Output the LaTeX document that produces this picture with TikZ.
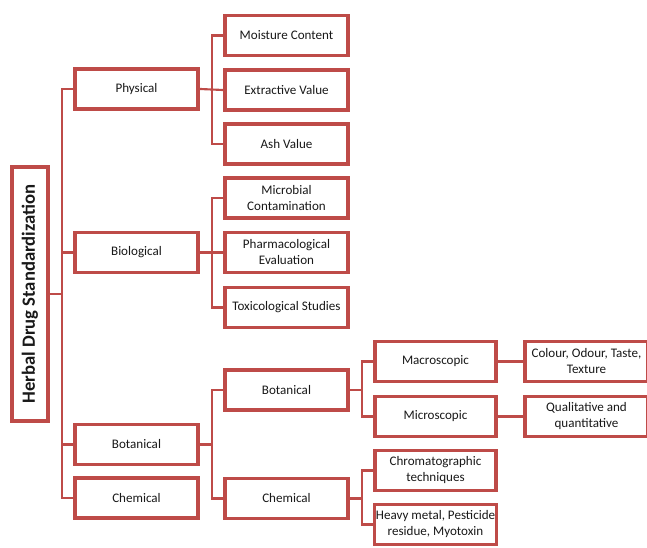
\documentclass[tikz,border=0pt]{standalone}
\usepackage{fontspec}
\setmainfont{Carlito}
\usetikzlibrary{shadows}
\definecolor{boxred}{HTML}{BE4B48}
\tikzset{
  box/.style={draw=boxred, line width=2.8pt, fill=white, rectangle,
    minimum width=92.6pt, minimum height=30pt, inner sep=1pt, align=center,
    text=black!90, font=\fontsize{9.8}{12}\selectfont,
    drop shadow={shadow xshift=1pt, shadow yshift=-1.2pt, fill=black!45, opacity=0.5}},
  smallbox/.style={box, minimum width=91pt},
  rootbox/.style={box, minimum width=27.2pt, minimum height=191pt},
  link/.style={draw=boxred, line width=1.6pt}
}
\begin{document}
\begin{tikzpicture}[x=0.75pt, y=-0.75pt]
\useasboundingbox (0,0) rectangle (647,548);
\clip (0,0) rectangle (647,548);
% root
\node[rootbox] (root) at (30,294) {};
\node[rotate=90, font=\fontsize{14}{16}\bfseries\selectfont, text=black!90] (roottext) at (root.center) {Herbal Drug Standardization};
% level 1
\node[box] (phys) at (136.5,89) {Physical};
\node[box] (bio) at (136.5,252.5) {Biological};
\node[box] (bot) at (136.5,444.5) {Botanical};
\node[box] (chem) at (136.5,498) {Chemical};
% level 2
\node[box] (moist) at (286.5,35.5) {Moisture Content};
\node[box] (extr) at (286.5,90) {Extractive Value};
\node[box] (ash) at (286.5,144) {Ash Value};
\node[box] (micro) at (286.5,198) {Microbial\\Contamination};
\node[box] (pharm) at (286.5,252.5) {Pharmacological\\Evaluation};
\node[box] (toxi) at (286.5,307.5) {Toxicological Studies};
\node[box] (bot2) at (286.5,390) {Botanical};
\node[box] (chem2) at (286.5,498.5) {Chemical};
% level 3
\node[smallbox] (macro) at (435.5,361.5) {Macroscopic};
\node[smallbox] (micros) at (435.5,416.5) {Microscopic};
\node[smallbox] (chrom) at (435.5,470.5) {Chromatographic\\techniques};
\node[smallbox] (heavy) at (435.5,524.5) {Heavy metal, Pesticide\\residue, Myotoxin};
% level 4
\node[box] (colour) at (586.5,361.5) {Colour, Odour, Taste,\\Texture};
\node[box] (qual) at (586.5,416.5) {Qualitative and\\quantitative};
% connectors
\coordinate (t1) at (62,0);
\coordinate (t2) at (212,0);
\coordinate (t3) at (362,0);
\draw[link] (root.east) -- (root.east -| t1);
\draw[link] (phys.west) -- (phys.west -| t1) -- (chem.west -| t1) -- (chem.west);
\draw[link] (bio.west) -- (bio.west -| t1);
\draw[link] (bot.west) -- (bot.west -| t1);
\draw[link] (phys.east) -- (extr.west);
\draw[link] (moist.west) -- (moist.west -| t2) -- (ash.west -| t2) -- (ash.west);
\draw[link] (bio.east) -- (pharm.west);
\draw[link] (micro.west) -- (micro.west -| t2) -- (toxi.west -| t2) -- (toxi.west);
\draw[link] (bot.east) -- (bot.east -| t2);
\draw[link] (bot2.west) -- (bot2.west -| t2) -- (chem2.west -| t2) -- (chem2.west);
\draw[link] (bot2.east) -- (bot2.east -| t3);
\draw[link] (macro.west) -- (macro.west -| t3) -- (micros.west -| t3) -- (micros.west);
\draw[link] (chem2.east) -- (chem2.east -| t3);
\draw[link] (chrom.west) -- (chrom.west -| t3) -- (heavy.west -| t3) -- (heavy.west);
\draw[link] (macro.east) -- (colour.west);
\draw[link] (micros.east) -- (qual.west);
\end{tikzpicture}
\end{document}
